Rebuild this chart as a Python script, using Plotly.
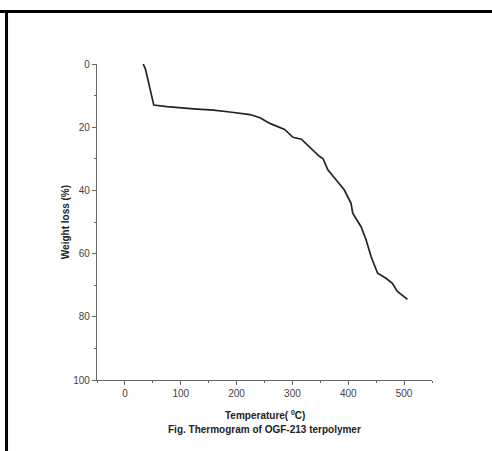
import plotly.graph_objects as go

temperature = [32.8, 36.9, 51.7, 75.5, 123, 158.6, 188, 224, 242, 259.6, 286, 301, 316, 328, 337,
               348.7, 354.6, 363.5, 378.5, 393, 405, 408, 423, 432, 441, 452.6, 467.6, 479, 488, 506]
weight_loss = [0, 1.7, 13, 13.5, 14.2, 14.6, 15.2, 16, 17, 18.8, 20.7, 23.2, 23.8, 25.9, 27.2,
               29.3, 29.9, 33.5, 36.7, 39.9, 44.1, 47.2, 51.5, 55.7, 61, 66.2, 67.8, 69.4, 72, 74.5]
x_ticks = [0, 100, 200, 300, 400, 500]
y_ticks = [0, 20, 40, 60, 80, 100]

fig = go.Figure()
fig.add_trace(go.Scatter(x=temperature, y=weight_loss, mode="lines",
                         line=dict(color="#222222", width=1.7), showlegend=False))

axis_common = dict(showgrid=False, zeroline=False, showline=True, linecolor="#666666", linewidth=1.2,
                   ticks="outside", ticklen=4, tickwidth=1.2, tickcolor="#666666",
                   tickfont=dict(family="Arial, Liberation Sans", size=10, color="#444444"))

fig.update_xaxes(range=[-50, 550], tickvals=x_ticks, ticktext=[str(v) for v in x_ticks],
                 minor=dict(dtick=50, tick0=0, ticks="outside", ticklen=2, tickcolor="#666666"),
                 **axis_common)
fig.update_yaxes(range=[100, 0], tickvals=y_ticks, ticktext=[str(v) for v in y_ticks],
                 minor=dict(dtick=10, tick0=0, ticks="outside", ticklen=2, tickcolor="#666666"),
                 **axis_common)

bold = dict(family="Arial, Liberation Sans", size=10, color="#222222")
fig.add_annotation(x=-0.095, y=0.5, xref="paper", yref="paper", showarrow=False, textangle=-90,
                   xanchor="center", yanchor="middle",
                   text="<b>Weight loss (%)</b>", font=bold)
fig.add_annotation(x=0.5, y=-0.11, xref="paper", yref="paper", showarrow=False,
                   xanchor="center", yanchor="middle",
                   text="<b>Temperature( <sup>0</sup>C)</b>", font=bold)
fig.add_annotation(x=0.5, y=-0.158, xref="paper", yref="paper", showarrow=False,
                   xanchor="center", yanchor="middle",
                   text="<b>Fig. Thermogram of OGF-213 terpolymer</b>", font=bold)

# page border lines
fig.add_shape(type="line", xref="paper", yref="paper", x0=-0.2896, x1=1.18, y0=1.1661, y1=1.1661,
              line=dict(color="black", width=3))
fig.add_shape(type="line", xref="paper", yref="paper", x0=-0.2701, x1=-0.2701, y0=1.1709, y1=-0.23,
              line=dict(color="black", width=3))
fig.add_shape(type="line", xref="paper", yref="paper", x0=-0.2896, x1=-0.2701, y0=1.1661, y1=1.1661,
              line=dict(color="black", width=3))

fig.update_layout(width=492, height=451, margin=dict(l=97, r=60, t=64, b=71),
                  paper_bgcolor="white", plot_bgcolor="white")
fig.write_html("out.html")
